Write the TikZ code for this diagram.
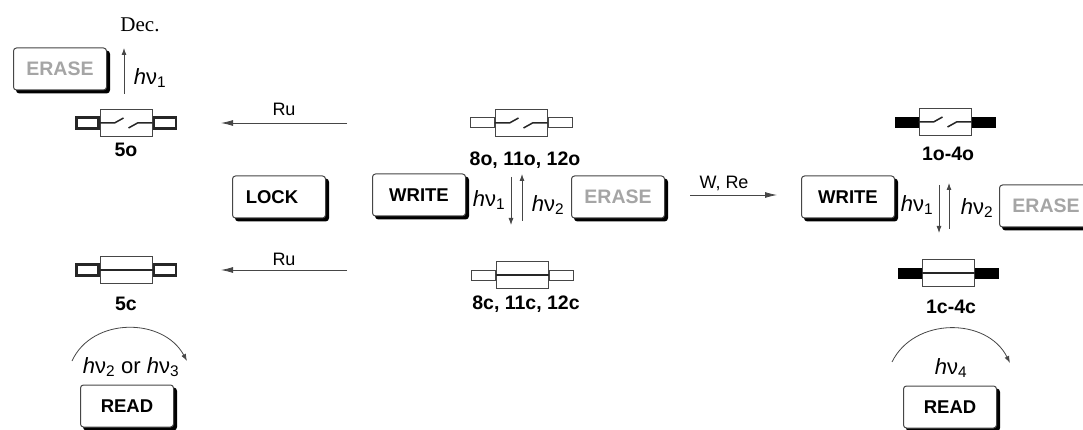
\documentclass[tikz,border=0pt]{standalone}
\usepackage{fontspec}
\setmainfont{Liberation Sans}
\newfontfamily\decfont{Liberation Serif}
\usetikzlibrary{arrows.meta,positioning,shadows}
\definecolor{linegrey}{RGB}{70,70,70}
\definecolor{erasegrey}{RGB}{165,165,165}
\newcommand{\hv}[1]{\textit{h}ν\textsubscript{#1}}
\newcommand{\openwire}[1]{%
  \draw[wire] (#1.west) -- ++(15,0) -- ++(9,-5);
  \draw[wire] (#1.east) -- ++(-15,0) -- ++(-9,5);}
\newcommand{\closedwire}[1]{\draw[wire, line width=2pt] (#1.west) -- (#1.east);}

\begin{document}
\begin{tikzpicture}[x=1pt, y=-1pt,
    btn/.style={rectangle, rounded corners=3pt, draw=linegrey, line width=1pt, fill=white,
                minimum width=93pt, minimum height=42pt, inner sep=0pt,
                font=\fontsize{18.5}{20}\selectfont\bfseries,
                copy shadow={shadow xshift=3pt, shadow yshift=-3pt, fill=black, draw=black}},
    erasebtn/.style={btn, text=erasegrey, font=\fontsize{19.5}{20}\selectfont\bfseries},
    body/.style={rectangle, draw=linegrey, line width=1pt, fill=white,
                 minimum width=52pt, minimum height=27pt, inner sep=0pt},
    tabfive/.style={rectangle, draw=black!85, line width=2.4pt, fill=white,
                    minimum width=22pt, minimum height=11pt, inner sep=0pt},
    tabthin/.style={rectangle, draw=linegrey, line width=1pt, fill=white,
                    minimum width=24pt, minimum height=10pt, inner sep=0pt},
    tabfull/.style={rectangle, draw=black, fill=black,
                    minimum width=23pt, minimum height=10pt, inner sep=0pt},
    wire/.style={line width=1.5pt, black!85},
    tag/.style={font=\fontsize{19.5}{20}\selectfont\bfseries, inner sep=0pt},
    txt/.style={font=\fontsize{18}{20}\selectfont, inner sep=0pt},
    light/.style={font=\fontsize{22}{24}\selectfont, inner sep=0pt},
    arrow/.style={-{Latex[length=7pt,width=5pt]}, line width=0.8pt, linegrey},
    ruarrow/.style={-{Latex[length=12pt,width=6pt]}, line width=0.8pt, linegrey},
    node distance=6pt
]
\useasboundingbox (0,0) rectangle (1083,430);

% left column
\node[erasebtn] (eraseA) at (60,69) {ERASE};
\node[body] (m5o) at (126,123) {};
\node[tabfive, left=0pt of m5o] (m5oL) {};
\node[tabfive, right=0pt of m5o] (m5oR) {};
\openwire{m5o}
\node[tag, below=of m5o] (t5o) {5o};
\node[font=\decfont\fontsize{21}{22}\selectfont, inner sep=0pt] (dec) at (140,25) {Dec.};
\node[light] (hvdec) at (150,78) {\hv{1}};
\coordinate (decS) at (124,94);
\coordinate (decE) at (124,48);
\draw[arrow] (decS) -- (decE);

\node[btn] (lock) at (279,197) {\hspace*{-14pt}LOCK};

\node[body] (m5c) at (126,270) {};
\node[tabfive, left=0pt of m5c] (m5cL) {};
\node[tabfive, right=0pt of m5c] (m5cR) {};
\closedwire{m5c}
\node[tag, below=13pt of m5c] (t5c) {5c};
\node[btn] (readA) at (127,406) {READ};
\node[light] (hvread) at (131,367) {\hv{2} or \hv{3}};
\coordinate (arcAs) at (72,361);
\coordinate (arcAe) at (187,361);
\draw[arrow] (arcAs) .. controls (92,317) and (163,317) .. (arcAe);

% Ru arrows
\coordinate (ruAs) at (347,123);
\coordinate (ruAe) at (221,123);
\coordinate (ruBs) at (347,270);
\coordinate (ruBe) at (221,270);
\draw[ruarrow] (ruAs) -- (ruAe);
\draw[ruarrow] (ruBs) -- (ruBe);
\node[txt] (ruA) at (284,109) {Ru};
\node[txt] (ruB) at (284,259) {Ru};

% middle column
\node[body] (m8o) at (521,123) {};
\node[tabthin, left=0pt of m8o] (m8oL) {};
\node[tabthin, right=0pt of m8o] (m8oR) {};
\openwire{m8o}
\node[tag, below=15pt of m8o, xshift=4pt] (t8o) {8o, 11o, 12o};
\node[btn] (writeB) at (419,195) {WRITE};
\node[erasebtn] (eraseB) at (618,197) {ERASE};
\node[light] (hvB1) at (489,200) {\hv{1}};
\node[light] (hvB2) at (548,205) {\hv{2}};
\coordinate (downBs) at (511,177);
\coordinate (downBe) at (511,225);
\coordinate (upBs) at (522,221);
\coordinate (upBe) at (522,174);
\draw[arrow] (downBs) -- (downBe);
\draw[arrow] (upBs) -- (upBe);
\node[body] (m8c) at (522,275) {};
\node[tabthin, left=0pt of m8c] (m8cL) {};
\node[tabthin, right=0pt of m8c] (m8cR) {};
\closedwire{m8c}
\node[tag, below=7pt of m8c, xshift=4pt] (t8c) {8c, 11c, 12c};

\coordinate (wrS) at (690,195);
\coordinate (wrE) at (777,195);
\draw[ruarrow] (wrS) -- (wrE);
\node[txt] (wr) at (724,183) {W, Re};

% right column
\node[body] (m1o) at (945,122) {};
\node[tabfull, left=0pt of m1o] (m1oL) {};
\node[tabfull, right=0pt of m1o] (m1oR) {};
\openwire{m1o}
\node[tag, below=11pt of m1o, xshift=3pt] (t1o) {1o-4o};
\node[btn] (writeC) at (848,197) {WRITE};
\node[erasebtn] (eraseC) at (1046,206) {ERASE};
\node[light] (hvC1) at (917,205) {\hv{1}};
\node[light] (hvC2) at (977,208) {\hv{2}};
\coordinate (downCs) at (939,185);
\coordinate (downCe) at (939,233);
\coordinate (upCs) at (949,229);
\coordinate (upCe) at (949,183);
\draw[arrow] (downCs) -- (downCe);
\draw[arrow] (upCs) -- (upCe);
\node[body] (m1c) at (948,273) {};
\node[tabfull, left=0pt of m1c] (m1cL) {};
\node[tabfull, right=0pt of m1c] (m1cR) {};
\closedwire{m1c}
\node[tag, below=13pt of m1c, xshift=3pt] (t1c) {1c-4c};
\node[btn] (readC) at (950,407) {READ};
\node[light] (hvread2) at (951,368) {\hv{4}};
\coordinate (arcCs) at (892,362);
\coordinate (arcCe) at (1010,363);
\draw[arrow] (arcCs) .. controls (914,317) and (987,317) .. (arcCe);
\end{tikzpicture}
\end{document}
